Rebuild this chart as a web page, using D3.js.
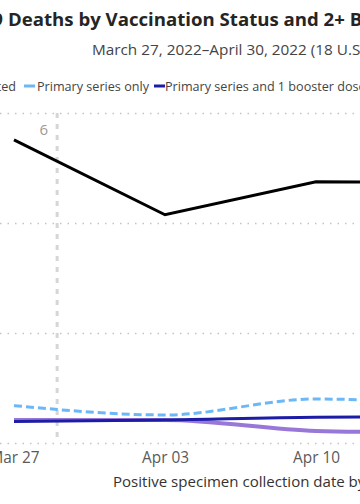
<!DOCTYPE html>
<html><head><meta charset="utf-8">
<script src="https://cdn.jsdelivr.net/npm/d3@7"></script>
<style>html,body{margin:0;padding:0;background:#fff;overflow:hidden}</style>
</head><body><svg id="c" width="360" height="504"></svg>
<script>
// ---- data ----
const weeks = ["2022-03-27","2022-04-03","2022-04-10","2022-04-17","2022-04-24"];
const tickLabels = ["Mar 27","Apr 03","Apr 10","Apr 17","Apr 24"];
const seriesNames = ["Unvaccinated","Primary series only","Primary series and 1 booster dose","Primary series and 2+ booster doses"];
const unvaccinated = [5.51, 4.15, 4.75, 4.73, 4.60];
const primaryOnly  = [0.68, 0.51, 0.80, 0.72, 0.70];
const oneBooster   = [0.39, 0.42, 0.47, 0.48, 0.47];
const twoBooster   = [0.42, 0.42, 0.22, 0.18, 0.16];
const yTicks = [0, 2, 4, 6];
const annotationDate = "2022-03-29";
const annotationLabel = "6";
const titleLead = "Rates of COVID-19";
const titleMain = "Deaths by Vaccination Status and 2+ Booster Doses";
const subtitle = "March 27, 2022\u2013April 30, 2022 (18 U.S. jurisdictions)";
const xTitle = "Positive specimen collection date by week";

// ---- setup ----
const FONT = "'Open Sans', 'Noto Sans', sans-serif";
const svg = d3.select("#c");
const parse = d3.timeParse("%Y-%m-%d");
const dates = weeks.map(parse);

function fitSize(str, width, weight) {
  const t = svg.append("text").attr("font-family", FONT).attr("font-weight", weight)
    .attr("font-size", 20).text(str);
  const w = t.node().getComputedTextLength();
  t.remove();
  return 20 * width / w;
}

const x = d3.scaleTime().domain([dates[0], dates[4]]).range([14, 14 + 151 * 4]);
const y = d3.scaleLinear().domain([0, 6]).range([443, 113]);

// ---- title ----
const tSize = fitSize("Deaths by Vaccination Status and 2+", 337, 700);
svg.append("text").attr("x", 8).attr("y", 26).attr("font-family", FONT).attr("font-weight", 700)
  .attr("font-size", tSize).attr("fill", "#252525").text(titleMain);
svg.append("text").attr("x", 3).attr("y", 26).attr("text-anchor", "end").attr("font-family", FONT)
  .attr("font-weight", 700).attr("font-size", tSize).attr("fill", "#252525").text(titleLead);

const sSize = fitSize("March 27, 2022\u2013April 30, 2022", 215, 400);
svg.append("text").attr("x", 92).attr("y", 55).attr("font-family", FONT)
  .attr("font-size", sSize).attr("fill", "#444").text(subtitle);

// ---- legend ----
const lSize = fitSize("Primary series only", 112, 400);
const colors = ["#000000", "#6cb8f6", "#1c1ca6", "#8e68d4"];
const legendY = 91;
svg.append("text").attr("x", 16).attr("y", legendY).attr("text-anchor", "end").attr("font-family", FONT)
  .attr("font-size", lSize).attr("fill", "#444").text(seriesNames[0]);
[[1, 24, 37], [2, 154, 165]].forEach(([i, mx, tx]) => {
  svg.append("line").attr("x1", mx).attr("x2", mx + 11).attr("y1", legendY - 5).attr("y2", legendY - 5)
    .attr("stroke", colors[i]).attr("stroke-width", 3);
  svg.append("text").attr("x", tx).attr("y", legendY).attr("font-family", FONT)
    .attr("font-size", lSize).attr("fill", "#444").text(seriesNames[i]);
});

// ---- gridlines ----
const gy = svg.append("g")
  .call(d3.axisLeft(y).tickValues(yTicks).tickSize(-360).tickFormat(""));
gy.select(".domain").remove();
gy.selectAll(".tick line").attr("stroke", "#c4c4c4").attr("stroke-width", 1.5)
  .attr("stroke-dasharray", "1.5,6");

// ---- annotation ----
const ax = x(parse(annotationDate));
svg.append("line").attr("x1", ax).attr("x2", ax).attr("y1", y(6)).attr("y2", y(0) - 4)
  .attr("stroke", "#d6d6d6").attr("stroke-width", 3).attr("stroke-dasharray", "5,6");
svg.append("text").attr("x", ax - 9).attr("y", y(6) + 22).attr("text-anchor", "end")
  .attr("font-family", FONT).attr("font-size", 15).attr("fill", "#9a9a9a").text(annotationLabel);

// ---- x axis ----
const tkSize = fitSize("Apr 03", 47, 400);
const gx = svg.append("g").attr("transform", "translate(0,450)")
  .call(d3.axisBottom(x).tickValues(dates).tickSize(0).tickFormat((d, i) => tickLabels[i]));
gx.select(".domain").remove();
gx.selectAll("text").attr("font-family", FONT).attr("font-size", tkSize).attr("fill", "#5a5a5a")
  .attr("dy", null).attr("y", 13);

const xtSize = fitSize("Positive specimen collection date", 232, 400);
svg.append("text").attr("x", 113).attr("y", 487).attr("font-family", FONT)
  .attr("font-size", xtSize).attr("fill", "#333").text(xTitle);

// ---- lines ----
const mk = (vals) => vals.map((v, i) => ({ d: dates[i], v }));
const lineLin = d3.line().x(p => x(p.d)).y(p => y(p.v));
const lineSm = d3.line().x(p => x(p.d)).y(p => y(p.v)).curve(d3.curveMonotoneX);

svg.append("path").datum(mk(twoBooster)).attr("d", lineSm).attr("fill", "none")
  .attr("stroke", colors[3]).attr("stroke-width", 4).attr("stroke-opacity", 0.9);
svg.append("path").datum(mk(oneBooster)).attr("d", lineSm).attr("fill", "none")
  .attr("stroke", colors[2]).attr("stroke-width", 3);
svg.append("path").datum(mk(primaryOnly)).attr("d", lineSm).attr("fill", "none")
  .attr("stroke", colors[1]).attr("stroke-width", 3).attr("stroke-dasharray", "8,4");
svg.append("path").datum(mk(unvaccinated)).attr("d", lineLin).attr("fill", "none")
  .attr("stroke", colors[0]).attr("stroke-width", 3);
</script></body></html>
